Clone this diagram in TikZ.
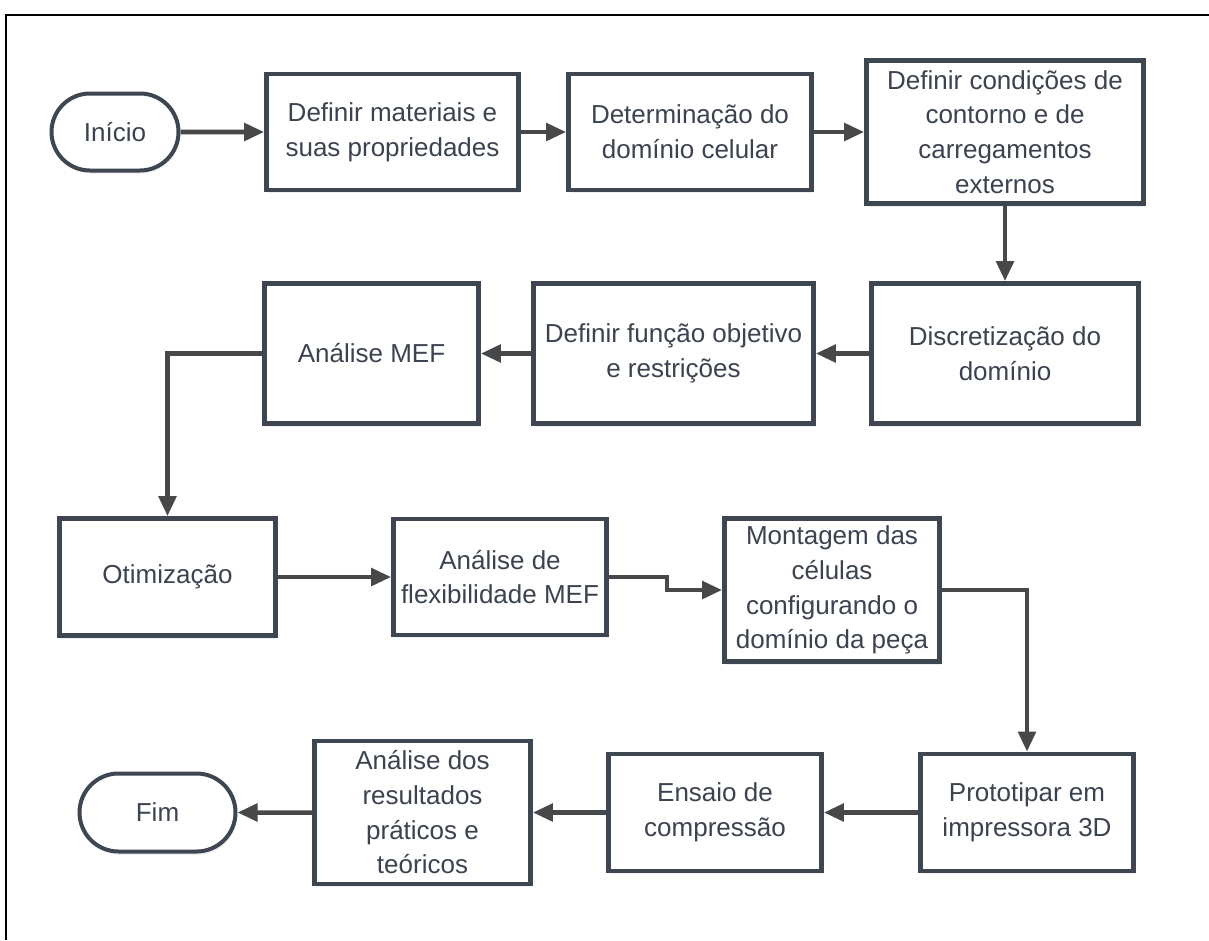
\documentclass[tikz,border=0pt]{standalone}
\usepackage{fontspec}
\setmainfont{Liberation Sans}
\usetikzlibrary{arrows.meta,shapes.misc,shadows}

\definecolor{boxline}{HTML}{3D4651}
\definecolor{boxtext}{HTML}{3B4350}
\definecolor{arrline}{HTML}{474849}

\begin{document}
\begin{tikzpicture}[x=0.75pt, y=-0.75pt,
  size/.style 2 args={minimum width=#1*0.75pt, minimum height=#2*0.75pt},
  box/.style={draw=boxline, line width=3.6pt, fill=white, text=boxtext,
    align=center, inner sep=0pt,
    drop shadow={shadow xshift=1pt, shadow yshift=-2.5pt, opacity=0.12}},
  term/.style={box, rounded rectangle, line width=3pt},
  arr/.style={draw=arrline, line width=3.4pt, -{Triangle[length=15pt, width=13pt]}}]

  \fontsize{19.5pt}{26pt}\selectfont

  \newcommand\YA{132};
  \newcommand\YB{353.5};
  \newcommand\YC{577};
  \newcommand\YD{812.5};

  \useasboundingbox (0,0) rectangle (1209,940);
  \draw[line width=2pt] (6,940) -- (6,15) -- (1209,15);

  \node[term, size={127}{77}] (inicio) at (115, \YA) {Início};
  \node[box, size={252}{116}] (mat) at (392.5, \YA) {Definir materiais e\\suas propriedades};
  \node[box, size={243}{116}] (dom) at (690, \YA) {Determinação do\\domínio celular};
  \node[box, size={277}{143}] (cond) at (1005, \YA) {Definir condições de\\contorno e de\\carregamentos\\externos};

  \node[box, size={267}{140}] (disc) at (1005, \YB) {Discretização do\\domínio};
  \node[box, size={280}{140}] (func) at (673.5, \YB) {Definir função objetivo\\e restrições};
  \node[box, size={214}{140}] (mef) at (371.5, \YB) {Análise MEF};

  \node[box, size={216}{117}] (otim) at (167.5, \YC) {Otimização};
  \node[box, size={213}{116}] (flex) at (500, \YC) {Análise de\\flexibilidade MEF};
  \node[box, size={215}{143}] (mont) at (832, 590) {Montagem das\\células\\configurando o\\domínio da peça};

  \node[box, size={213}{117}] (prot) at (1027, \YD) {Prototipar em\\impressora 3D};
  \node[box, size={213}{117}] (ens) at (715, \YD) {Ensaio de\\compressão};
  \node[box, size={216}{143}] (res) at (422.5, \YD) {Análise dos\\resultados\\práticos e\\teóricos};
  \node[term, size={156}{78}] (fim) at (157.5, \YD) {Fim};

  \draw[arr] (inicio) -- (mat);
  \draw[arr] (mat) -- (dom);
  \draw[arr] (dom) -- (cond);
  \draw[arr] (cond) -- (disc);
  \draw[arr] (disc) -- (func);
  \draw[arr] (func) -- (mef);
  \draw[arr] (mef.west) -| (otim.north);
  \draw[arr] (otim) -- (flex);
  \draw[arr] (flex.east) -- ++(58,0) |- (mont.west);
  \draw[arr] (mont.east) -| (prot.north);
  \draw[arr] (prot) -- (ens);
  \draw[arr] (ens) -- (res);
  \draw[arr] (res) -- (fim);

\end{tikzpicture}
\end{document}
